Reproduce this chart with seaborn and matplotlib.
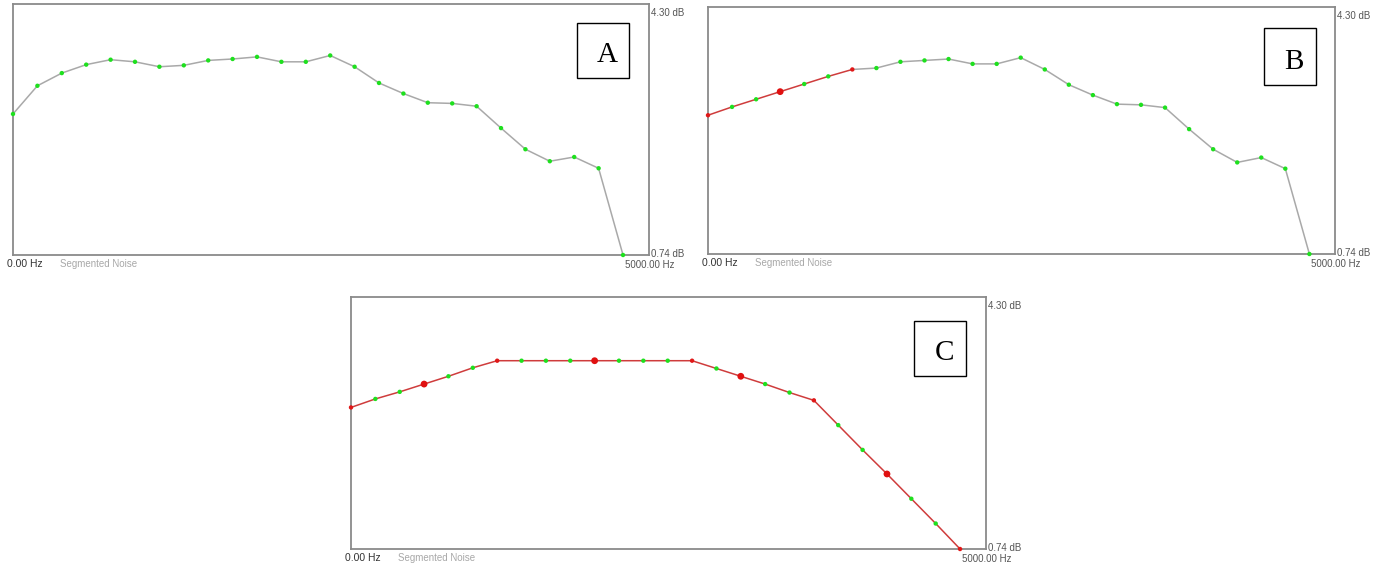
import matplotlib
matplotlib.use("Agg")
import matplotlib.pyplot as plt
import matplotlib.patches as mpatches
import seaborn as sns
import pandas as pd

# --- data ---
freq_hz = [0, 200, 400, 600, 800, 1000, 1200, 1400, 1600, 1800, 2000, 2200, 2400,
           2600, 2800, 3000, 3200, 3400, 3600, 3800, 4000, 4200, 4400, 4600, 4800, 5000]

level_a = [2.74, 3.14, 3.32, 3.44, 3.51, 3.48, 3.41, 3.43, 3.50, 3.52, 3.55, 3.48, 3.48,
           3.57, 3.41, 3.18, 3.03, 2.90, 2.89, 2.85, 2.54, 2.24, 2.07, 2.13, 1.97, 0.74]
level_b = [2.74, 2.86, 2.97, 3.08, 3.19, 3.30, 3.40, 3.42, 3.51, 3.53, 3.55, 3.48, 3.48,
           3.57, 3.40, 3.18, 3.03, 2.90, 2.89, 2.85, 2.54, 2.25, 2.06, 2.13, 1.97, 0.74]
level_c = [2.74, 2.86, 2.96, 3.07, 3.18, 3.30, 3.40, 3.40, 3.40, 3.40, 3.40, 3.40, 3.40,
           3.40, 3.40, 3.29, 3.18, 3.07, 2.95, 2.84, 2.49, 2.14, 1.80, 1.45, 1.10, 0.74]

# point type: g = plain node, r = anchor, R = selected anchor
kind_a = ["g"] * 26
kind_b = ["r", "g", "g", "R", "g", "g", "r"] + ["g"] * 19
kind_c = ["r", "g", "g", "R", "g", "g", "r", "g", "g", "g", "R", "g", "g", "g",
          "r", "g", "R", "g", "g", "r", "g", "g", "R", "g", "g", "r"]

# which segments are drawn red (edited) vs grey
red_upto = {"A": 0, "B": 6, "C": 25}

y_min, y_max = 0.74, 4.30
x_max = 5213

sns.set_style("white")
plt.rcParams['font.family'] = ['Liberation Sans', 'DejaVu Sans']

W, H = 1385, 564
fig = plt.figure(figsize=(W / 100, H / 100), dpi=100)


def px_axes(left, top, right, bottom):
    return fig.add_axes([left / W, 1 - bottom / H, (right - left) / W, (bottom - top) / H])


def px_box(left, top, right, bottom, letter):
    rect = mpatches.Rectangle((left / W, 1 - bottom / H), (right - left) / W, (bottom - top) / H,
                              transform=fig.transFigure, fill=False, edgecolor="black", linewidth=1)
    fig.patches.append(rect)
    # letter sits a little right of centre, baseline ~16px above the box bottom
    fig.text(((left + right) / 2 + 4) / W, 1 - (bottom - 16) / H, letter,
             ha="center", va="baseline", fontsize=21, family="Liberation Serif", color="black")


palette = {"g": "#1ee01e", "r": "#e01818", "R": "#e01010"}
sizes = {"g": 10, "r": 10, "R": 24}

panels = [
    ("A", level_a, kind_a, (13, 4, 649, 255), (577, 23, 629, 78)),
    ("B", level_b, kind_b, (708, 7, 1335, 254), (1264, 28, 1316, 85)),
    ("C", level_c, kind_c, (351, 297, 986, 549), (914, 321, 966, 376)),
]

for name, levels, kinds, ax_px, box_px in panels:
    ax = px_axes(*ax_px)
    df = pd.DataFrame({"freq": freq_hz, "level": levels, "kind": kinds})
    k = red_upto[name]
    if k > 0:
        sns.lineplot(data=df.iloc[:k + 1], x="freq", y="level", color="#cf3c3c",
                     linewidth=1.1, ax=ax, errorbar=None)
    if k < 25:
        sns.lineplot(data=df.iloc[k:], x="freq", y="level", color="#a9a9a9",
                     linewidth=1.1, ax=ax, errorbar=None)
    sns.scatterplot(data=df, x="freq", y="level", hue="kind", palette=palette,
                    size="kind", sizes=sizes, legend=False, linewidth=0,
                    ax=ax, zorder=3, clip_on=False)

    ax.set_xlim(0, x_max)
    ax.set_ylim(y_min, y_max)
    ax.set_xticks([])
    ax.set_yticks([])
    ax.set_xlabel("")
    ax.set_ylabel("")
    for sp in ax.spines.values():
        sp.set_color("#8a8a8a")
        sp.set_linewidth(1.3)

    # axis captions like the original analyser window
    ax.annotate("0.00 Hz", xy=(0, 0), xycoords="axes fraction", xytext=(-6, -9),
                textcoords="offset pixels", ha="left", va="center", fontsize=7.5, color="#333333")
    ax.annotate("Segmented Noise", xy=(0, 0), xycoords="axes fraction", xytext=(47, -9),
                textcoords="offset pixels", ha="left", va="center", fontsize=7, color="#a8a8a8")
    ax.annotate("5000.00 Hz", xy=(5000, y_min), xycoords="data", xytext=(2, -10),
                textcoords="offset pixels", ha="left", va="center", fontsize=7, color="#555555")
    ax.annotate("4.30 dB", xy=(1, 1), xycoords="axes fraction", xytext=(2, -9),
                textcoords="offset pixels", ha="left", va="center", fontsize=7, color="#555555")
    ax.annotate("0.74 dB", xy=(1, 0), xycoords="axes fraction", xytext=(2, 1),
                textcoords="offset pixels", ha="left", va="center", fontsize=7, color="#555555")

    px_box(*box_px, name)

fig.savefig("out.png", dpi=100)
